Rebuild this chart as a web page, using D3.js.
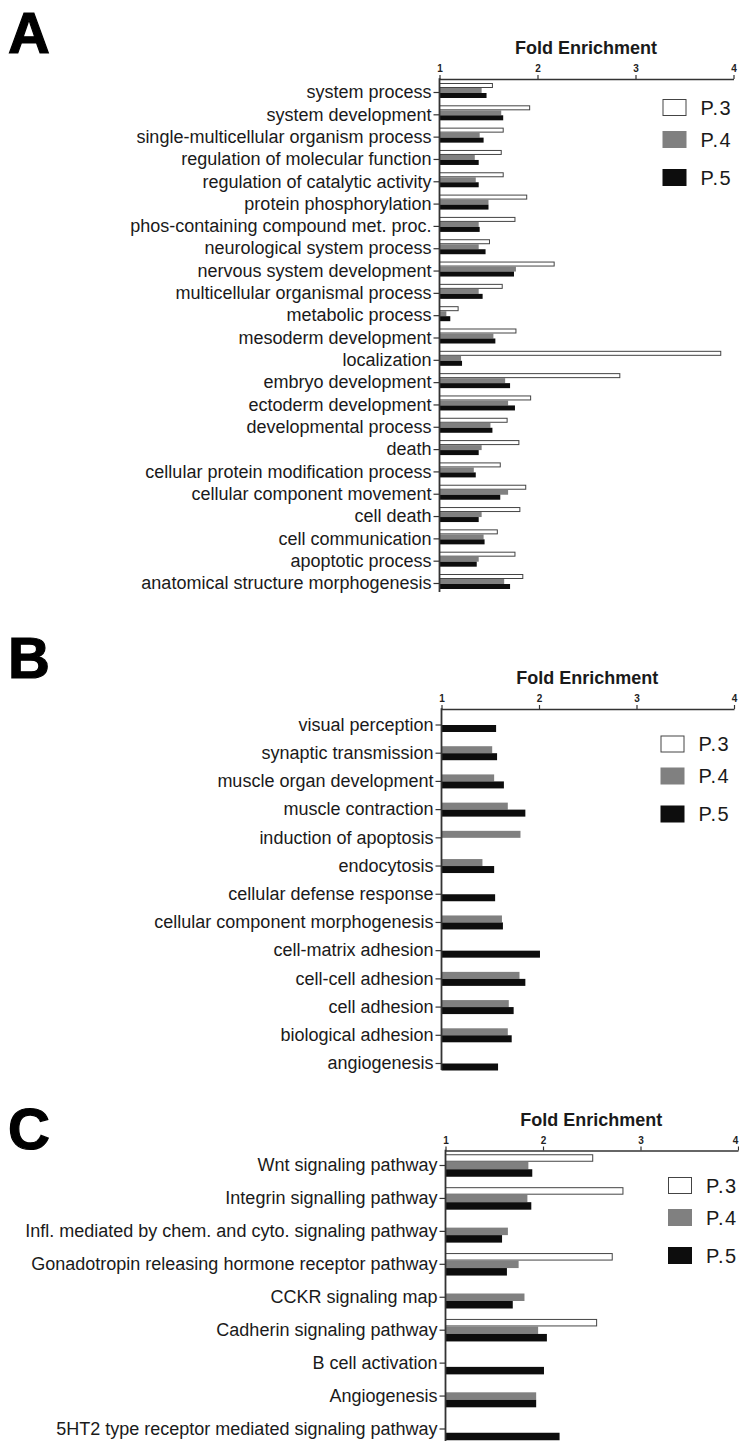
<!DOCTYPE html>
<html>
<head>
<meta charset="utf-8">
<script src="https://cdn.jsdelivr.net/npm/d3@7/dist/d3.min.js"></script>
<style>
  html, body { margin: 0; padding: 0; background: #fff; }
  svg { display: block; }
  text { font-family: "Liberation Sans", Arial, Helvetica, sans-serif; fill: #1a1a1a; }
</style>
</head>
<body>
<svg id="chart" width="739" height="1441"></svg>
<script>
// Series shared by all three panels
const seriesNames = ["P.3", "P.4", "P.5"];
const seriesFill = { "P.3": "#ffffff", "P.4": "#808080", "P.5": "#0d0d0d" };
const axisTicks = [1, 2, 3, 4];

// Panel A: GO biological processes
const categoriesA = [
  "system process", "system development", "single-multicellular organism process",
  "regulation of molecular function", "regulation of catalytic activity", "protein phosphorylation",
  "phos-containing compound met. proc.", "neurological system process", "nervous system development",
  "multicellular organismal process", "metabolic process", "mesoderm development", "localization",
  "embryo development", "ectoderm development", "developmental process", "death",
  "cellular protein modification process", "cellular component movement", "cell death",
  "cell communication", "apoptotic process", "anatomical structure morphogenesis"
];
const p3A = [1.54, 1.92, 1.65, 1.63, 1.65, 1.89, 1.77, 1.51, 2.17, 1.64, 1.19, 1.78, 3.87, 2.84, 1.93, 1.69, 1.81, 1.62, 1.88, 1.82, 1.59, 1.77, 1.85];
const p4A = [1.43, 1.63, 1.41, 1.36, 1.37, 1.50, 1.40, 1.40, 1.78, 1.40, 1.07, 1.55, 1.22, 1.67, 1.70, 1.52, 1.43, 1.35, 1.70, 1.43, 1.45, 1.40, 1.66];
const p5A = [1.48, 1.65, 1.45, 1.40, 1.40, 1.50, 1.41, 1.47, 1.76, 1.44, 1.11, 1.57, 1.23, 1.72, 1.77, 1.54, 1.40, 1.37, 1.62, 1.40, 1.46, 1.38, 1.72];

// Panel B
const categoriesB = [
  "visual perception", "synaptic transmission", "muscle organ development", "muscle contraction",
  "induction of apoptosis", "endocytosis", "cellular defense response", "cellular component morphogenesis",
  "cell-matrix adhesion", "cell-cell adhesion", "cell adhesion", "biological adhesion", "angiogenesis"
];
const p3B = [null, null, null, null, null, null, null, null, null, null, null, null, null];
const p4B = [null, 1.52, 1.54, 1.68, 1.81, 1.42, null, 1.62, null, 1.80, 1.69, 1.68, null];
const p5B = [1.56, 1.57, 1.64, 1.86, null, 1.54, 1.55, 1.63, 2.01, 1.86, 1.74, 1.72, 1.58];

// Panel C: pathways
const categoriesC = [
  "Wnt signaling pathway", "Integrin signalling pathway",
  "Infl. mediated by chem. and cyto. signaling pathway",
  "Gonadotropin releasing hormone receptor pathway", "CCKR signaling map",
  "Cadherin signaling pathway", "B cell activation", "Angiogenesis",
  "5HT2 type receptor mediated signaling pathway"
];
const p3C = [2.51, 2.82, null, 2.71, null, 2.55, null, null, null];
const p4C = [1.85, 1.84, 1.64, 1.75, 1.81, 1.95, null, 1.93, null];
const p5C = [1.89, 1.88, 1.58, 1.63, 1.69, 2.04, 2.01, 1.93, 2.17];

const svg = d3.select("#chart");
const W = +svg.attr("width");

// Layout of each panel
const panels = [
  { letter: "A", letterY: 53, categories: categoriesA, values: [p3A, p4A, p5A],
    x0: 439.5, x1: 733.5, axisY: 79, first: 92, last: 583, bottom: 592,
    barH: 5, shift: -1.5, legendX: 662.5, legendY: 107.5 },
  { letter: "B", letterY: 678, categories: categoriesB, values: [p3B, p4B, p5B],
    x0: 441.5, x1: 734, axisY: 709, first: 724.5, last: 1063, bottom: 1070,
    barH: 7, shift: -3, legendX: 660.5, legendY: 744 },
  { letter: "C", letterY: 1149, categories: categoriesC, values: [p3C, p4C, p5C],
    x0: 445.5, x1: 738, axisY: 1150.5, first: 1165, last: 1428.5, bottom: 1441,
    barH: 7.5, shift: 0.5, legendX: 668, legendY: 1185.5 }
];

const legendOffsets = [0, 32, 70];

panels.forEach(p => {
  const g = svg.append("g");

  // Panel letter
  g.append("text")
    .attr("x", 8).attr("y", p.letterY)
    .attr("font-size", 58).attr("font-weight", "bold")
    .style("fill", "#000")
    .style("stroke", "#000").style("stroke-width", 1.2)
    .text(p.letter);

  const x = d3.scaleLinear().domain([1, 4]).range([p.x0, p.x1]);
  const y = d3.scalePoint().domain(p.categories).range([p.first, p.last]);
  const inner = d3.scaleBand().domain(seriesNames)
    .range([-1.5 * p.barH + p.shift, 1.5 * p.barH + p.shift]);

  // Bars
  const rows = p.categories.map((c, i) => ({
    cat: c,
    bars: seriesNames.map((s, k) => ({ series: s, value: p.values[k][i] }))
      .filter(d => d.value != null)
  }));

  const rowG = g.selectAll("g.row").data(rows).join("g")
    .attr("class", "row")
    .attr("transform", d => `translate(0,${y(d.cat)})`);

  rowG.selectAll("rect").data(d => d.bars).join("rect")
    .attr("x", x(1))
    .attr("y", d => inner(d.series) + (d.series === "P.3" ? 0.5 : 0))
    .attr("width", d => x(d.value) - x(1))
    .attr("height", d => inner.bandwidth() - (d.series === "P.3" ? 1 : 0))
    .attr("fill", d => seriesFill[d.series])
    .attr("stroke", d => d.series === "P.3" ? "#444" : "none")
    .attr("stroke-width", 1);

  // Top value axis
  const top = g.append("g")
    .attr("transform", `translate(0,${p.axisY})`)
    .call(d3.axisTop(x).tickValues(axisTicks).tickFormat(d3.format("d"))
      .tickSize(4).tickSizeOuter(0).tickPadding(3));
  top.select(".domain").attr("stroke", "#333").attr("stroke-width", 1.6);
  top.selectAll(".tick line").attr("stroke", "#333").attr("stroke-width", 1.2);
  top.selectAll(".tick text")
    .attr("font-size", 10).attr("font-weight", "bold")
    .attr("dx", d => x(d) + 4 > W ? -(x(d) + 4 - W) : 0)
    .style("font-family", "'Liberation Sans', Arial, sans-serif")
    .style("fill", "#222");

  // Axis title
  g.append("text")
    .attr("x", (p.x0 + p.x1) / 2 - 0.5).attr("y", p.axisY - 25)
    .attr("text-anchor", "middle")
    .attr("font-size", 18).attr("font-weight", "bold")
    .text("Fold Enrichment");

  // Category axis
  const left = g.append("g")
    .attr("transform", `translate(${x(1)},0)`)
    .call(d3.axisLeft(y).tickSize(6).tickPadding(2));
  left.select(".domain").remove();
  left.selectAll(".tick line").attr("stroke", "#333").attr("stroke-width", 1.2);
  left.selectAll(".tick text")
    .attr("font-size", 18)
    .style("font-family", "'Liberation Sans', Arial, sans-serif")
    .style("fill", "#1a1a1a");

  g.append("line")
    .attr("x1", x(1)).attr("x2", x(1))
    .attr("y1", p.axisY - 0.8).attr("y2", p.bottom)
    .attr("stroke", "#333").attr("stroke-width", 1.8);

  // Legend
  const leg = g.append("g")
    .attr("transform", `translate(${p.legendX},${p.legendY})`);
  const item = leg.selectAll("g").data(seriesNames).join("g")
    .attr("transform", (d, i) => `translate(0,${legendOffsets[i]})`);
  item.append("rect")
    .attr("x", d => d === "P.3" ? 0.5 : 0)
    .attr("y", d => d === "P.3" ? -8 : -8.5)
    .attr("width", d => d === "P.3" ? 23 : 24)
    .attr("height", d => d === "P.3" ? 16 : 17)
    .attr("fill", d => seriesFill[d])
    .attr("stroke", d => d === "P.3" ? "#444" : "none")
    .attr("stroke-width", 1);
  item.append("text")
    .attr("x", 38).attr("y", 7)
    .attr("font-size", 20)
    .style("letter-spacing", "1.3px")
    .text(d => d);
});
</script>
</body>
</html>
